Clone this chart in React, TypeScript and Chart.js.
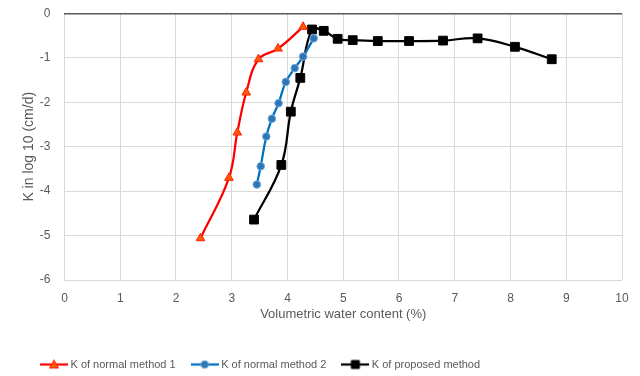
import React, { useEffect, useRef } from "react";
import { Chart, registerables } from "chart.js";

Chart.register(...registerables);

const seriesNames = ["K of normal method 1", "K of normal method 2", "K of proposed method"];

const method1X = [2.44, 2.95, 3.10, 3.26, 3.48, 3.83, 4.28];
const method1Y = [-5.06, -3.70, -2.68, -1.78, -1.03, -0.79, -0.30];

const method2X = [3.45, 3.52, 3.62, 3.72, 3.84, 3.97, 4.13, 4.28, 4.47];
const method2Y = [-3.85, -3.44, -2.77, -2.37, -2.02, -1.54, -1.23, -0.97, -0.56];

const proposedX = [3.40, 3.89, 4.06, 4.23, 4.44, 4.65, 4.90, 5.17, 5.62, 6.18, 6.79, 7.41, 8.08, 8.74];
const proposedY = [-4.64, -3.41, -2.21, -1.45, -0.36, -0.39, -0.57, -0.60, -0.62, -0.62, -0.61, -0.56, -0.75, -1.03];

const xTicks = [0, 1, 2, 3, 4, 5, 6, 7, 8, 9, 10];
const yTicks = [0, -1, -2, -3, -4, -5, -6];

const FONT = "'Liberation Sans', 'Noto Sans', sans-serif";
const TEXT = "#595959";

function toPoints(xs: number[], ys: number[]) {
  return xs.map((x, i) => ({ x, y: ys[i] }));
}

function legendIcon(line: string, fill: string, stroke: string, shape: string) {
  const c = document.createElement("canvas");
  c.width = 28;
  c.height = 12;
  const g = c.getContext("2d")!;
  g.strokeStyle = line;
  g.lineWidth = 2.25;
  g.beginPath();
  g.moveTo(0, 6);
  g.lineTo(28, 6);
  g.stroke();
  g.fillStyle = fill;
  g.strokeStyle = stroke;
  g.lineWidth = 1;
  g.beginPath();
  if (shape === "triangle") {
    g.moveTo(14, 1.5);
    g.lineTo(18.5, 9.5);
    g.lineTo(9.5, 9.5);
    g.closePath();
  } else if (shape === "circle") {
    g.arc(14, 6, 3.7, 0, Math.PI * 2);
  } else {
    g.rect(10, 2, 8, 8);
  }
  g.fill();
  g.stroke();
  return c;
}

const legendShift = {
  id: "legendShift",
  afterLayout(chart: any) {
    const lg = chart.legend;
    if (!lg) return;
    const targetStart = 43;
    const pad = lg.options.labels.padding;
    const w = lg.right - lg.left;
    lg.left = targetStart - pad;
    lg.right = lg.left + w;
  },
};

export default function App() {
  const ref = useRef<HTMLCanvasElement | null>(null);

  useEffect(() => {
    if (!ref.current) return;
    const icons = [
      legendIcon("#FF0000", "#FF5A0A", "#FF2000", "triangle"),
      legendIcon("#0070C0", "#2E75B6", "#5B9BD5", "circle"),
      legendIcon("#000000", "#000000", "#000000", "rect"),
    ];
    const chart = new Chart(ref.current, {
      type: "scatter",
      plugins: [legendShift],
      data: {
        datasets: [
          {
            label: seriesNames[0],
            data: toPoints(method1X, method1Y),
            showLine: true,
            borderColor: "#FF0000",
            backgroundColor: "#FF5A0A",
            borderWidth: 2.25,
            tension: 0.4,
            pointStyle: "triangle",
            pointRadius: 5,
            pointBorderColor: "#FF2000",
            pointBorderWidth: 1,
            pointBackgroundColor: "#FF5A0A",
          },
          {
            label: seriesNames[1],
            data: toPoints(method2X, method2Y),
            showLine: true,
            borderColor: "#0070C0",
            backgroundColor: "#2E75B6",
            borderWidth: 2.25,
            tension: 0.4,
            pointStyle: "circle",
            pointRadius: 3.8,
            pointBorderColor: "#6FA8DC",
            pointBorderWidth: 1,
            pointBackgroundColor: "#2E75B6",
          },
          {
            label: seriesNames[2],
            data: toPoints(proposedX, proposedY),
            showLine: true,
            borderColor: "#000000",
            backgroundColor: "#000000",
            borderWidth: 2.25,
            tension: 0.4,
            pointStyle: "rect",
            pointRadius: 6.2,
            pointBorderColor: "#000000",
            pointBorderWidth: 1,
            pointBackgroundColor: "#000000",
          },
        ],
      },
      options: {
        animation: false,
        responsive: false,
        maintainAspectRatio: false,
        layout: { padding: { top: 13.5, right: 18, bottom: -4, left: 21 } },
        plugins: {
          tooltip: { enabled: false },
          legend: {
            position: "bottom",
            align: "start",
            labels: {
              font: { family: FONT, size: 11 },
              color: TEXT,
              usePointStyle: true,
              pointStyleWidth: 22,
              padding: 18,
              generateLabels: (ch: any) =>
                ch.data.datasets.map((ds: any, i: number) => ({
                  text: ds.label,
                  pointStyle: icons[i],
                  fillStyle: "transparent",
                  strokeStyle: "transparent",
                  lineWidth: 0,
                  fontColor: TEXT,
                  datasetIndex: i,
                  hidden: false,
                })),
            },
          },
        },
        scales: {
          x: {
            type: "linear",
            min: 0,
            max: 10,
            afterBuildTicks: (s: any) => {
              s.ticks = xTicks.map((v) => ({ value: v }));
            },
            ticks: { font: { family: FONT, size: 12 }, color: TEXT, padding: 11 },
            grid: {
              color: "#D9D9D9",
              lineWidth: 1,
              drawTicks: false,
            },
            border: { display: false },
            title: {
              display: true,
              text: "Volumetric water content (%)",
              font: { family: FONT, size: 13 },
              color: TEXT,
              padding: { top: -10, bottom: 19 },
            },
          },
          y: {
            type: "linear",
            min: -6,
            max: 0,
            afterBuildTicks: (s: any) => {
              s.ticks = yTicks.map((v) => ({ value: v }));
            },
            afterFit: (s: any) => {
              s.paddingTop = 0;
            },
            ticks: { font: { family: FONT, size: 12 }, color: TEXT, padding: 14 },
            grid: {
              color: (c: any) => (c.tick && c.tick.value === 0 ? "#595959" : "#D9D9D9"),
              lineWidth: (c: any) => (c.tick && c.tick.value === 0 ? 1.5 : 1),
              drawTicks: false,
            },
            border: { display: false },
            title: {
              display: true,
              text: "K in log 10 (cm/d)",
              font: { family: FONT, size: 14 },
              color: TEXT,
              padding: { top: 0, bottom: -12 },
            },
          },
        },
      },
    } as any);
    return () => chart.destroy();
  }, []);

  return (
    <div style={{ position: "fixed", left: 0, top: 0, width: 640, height: 376, background: "#fff" }}>
      <canvas ref={ref} width={640} height={376} style={{ width: 640, height: 376, display: "block" }} />
    </div>
  );
}
